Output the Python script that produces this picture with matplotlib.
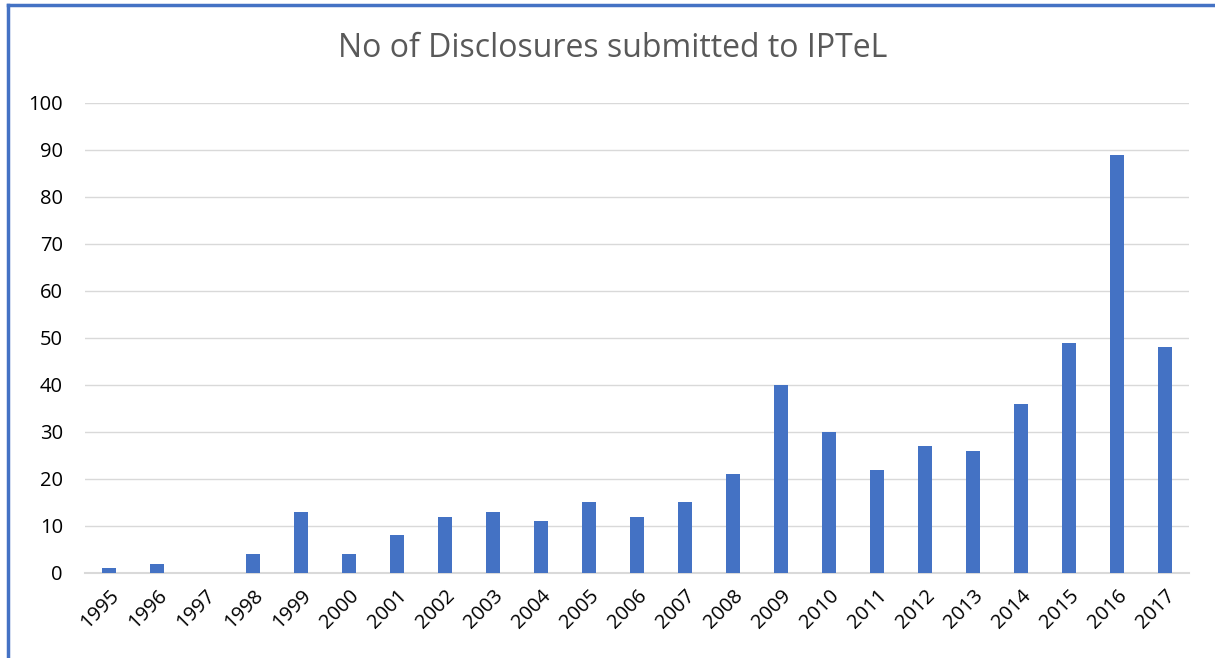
import matplotlib.pyplot as plt
from matplotlib.lines import Line2D

years = [str(y) for y in range(1995, 2018)]
disclosures = [1, 2, 0, 4, 13, 4, 8, 12, 13, 11, 15, 12, 15, 21, 40, 30, 22, 27, 26, 36, 49, 89, 48]
y_ticks = list(range(0, 101, 10))

plt.rcParams['font.family'] = ['Open Sans', 'DejaVu Sans']

fig = plt.figure(figsize=(12.15, 6.58), dpi=100)
ax = fig.add_axes([0.0700, 0.1292, 0.9086, 0.7143])

x = list(range(len(years)))
ax.bar(x, disclosures, width=0.31, color='#4472c4', zorder=3)

ax.set_xlim(-0.5, len(years) - 0.5)
ax.set_ylim(0, 100)
ax.set_yticks(y_ticks)
ax.set_xticks(x)
ax.set_xticklabels(years, rotation=45, ha='right', rotation_mode='anchor')
ax.tick_params(axis='both', length=0, labelsize=14.5, colors='black')
ax.tick_params(axis='y', pad=16)
ax.tick_params(axis='x', pad=9)

ax.grid(axis='y', color='#d9d9d9', linewidth=1, zorder=0)
for s in ['top', 'right', 'left']:
    ax.spines[s].set_visible(False)
ax.spines['bottom'].set_color('#d9d9d9')
ax.spines['bottom'].set_linewidth(1.5)

fig.text(0.5045, 0.927, 'No of Disclosures submitted to IPTeL', ha='center', va='center',
         fontsize=23, color='#595959')

# blue frame on the left and top edge
fig.add_artist(Line2D([8 / 1215, 8 / 1215], [0, 1 - 5 / 658], color='#4472c4', linewidth=2.5,
                      transform=fig.transFigure))
fig.add_artist(Line2D([8 / 1215, 1], [1 - 5 / 658, 1 - 5 / 658], color='#4472c4', linewidth=2.5,
                      transform=fig.transFigure))

fig.savefig('out.png', dpi=100)
